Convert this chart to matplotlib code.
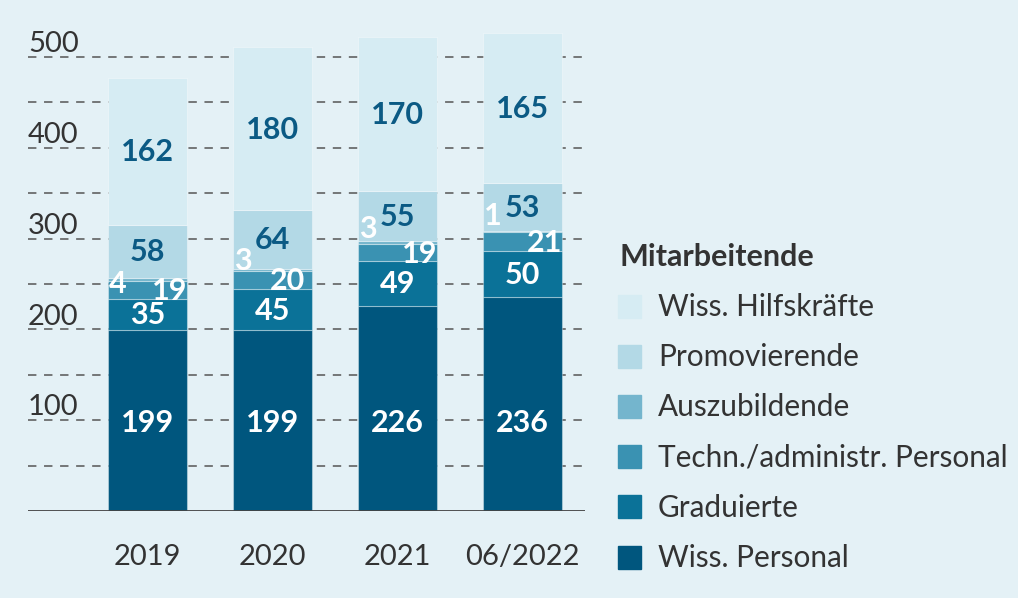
import matplotlib.pyplot as plt
from matplotlib.patches import Rectangle
import numpy as np

plt.rcParams['font.family'] = ['Lato', 'DejaVu Sans']

years = ["2019", "2020", "2021", "06/2022"]
wiss_personal = [199, 199, 226, 236]
graduierte = [35, 45, 49, 50]
techn_admin = [19, 20, 19, 21]
auszubildende = [4, 3, 3, 1]
promovierende = [58, 64, 55, 53]
hilfskraefte = [162, 180, 170, 165]

series = [
    ("Wiss. Personal", wiss_personal, "#00567e"),
    ("Graduierte", graduierte, "#0b7298"),
    ("Techn./administr. Personal", techn_admin, "#3a92b2"),
    ("Auszubildende", auszubildende, "#74b5cd"),
    ("Promovierende", promovierende, "#b3d9e6"),
    ("Wiss. Hilfskräfte", hilfskraefte, "#d6ecf3"),
]

bg = "#e4f1f6"
dark_label = "#0b5a84"
text_col = "#333333"

W, H = 1018, 598
fig = plt.figure(figsize=(W / 100, H / 100), dpi=100, facecolor=bg)
ax = fig.add_axes([28 / W, 87 / H, 557 / W, (511 - 11.6) / H])
ax.set_facecolor(bg)
ax.set_xlim(-0.956, 3.5)
ax.set_ylim(0, 550)
for s in ax.spines.values():
    s.set_visible(False)
ax.set_xticks([])
ax.set_yticks([])

# dashed grid
for v in range(50, 501, 50):
    ax.axhline(v, color="#555555", lw=1.1, ls=(0, (5.5, 5)), zorder=0)
ax.axhline(0, color="#444444", lw=1.3, zorder=3)

for v in range(100, 501, 100):
    ax.text(-0.956, v + 14, str(v), ha="left", va="center", fontsize=21,
            color=text_col)

x = np.arange(len(years))
bottom = np.zeros(len(years))
for name, vals, col in series:
    ax.bar(x, vals, 0.632, bottom=bottom, color=col, edgecolor=(1, 1, 1, 0.35),
           linewidth=0.8, zorder=2)
    bottom += np.array(vals)

# segment labels
lab = dict(fontsize=22, fontweight="bold", ha="center", va="center", zorder=4)
b0 = np.array(wiss_personal)
b1 = b0 + graduierte
b2 = b1 + techn_admin
b3 = b2 + auszubildende
b4 = b3 + promovierende
b5 = b4 + hilfskraefte
techn_dx = [0.18, 0.12, 0.18, 0.18]
aus_dy = [-7, 8, 14, 17]
for i in range(len(years)):
    ax.text(x[i], 97, wiss_personal[i], color="white", **lab)
    ax.text(x[i], (b0[i] + b1[i]) / 2 - 1, graduierte[i], color="white", **lab)
    ax.text(x[i] + techn_dx[i], (b1[i] + b2[i]) / 2 - 1, techn_admin[i], color="white", **lab)
    ax.text(x[i] - 0.24, b3[i] + aus_dy[i], auszubildende[i], color="white", **lab)
    ax.text(x[i], (b3[i] + b4[i]) / 2 - 1, promovierende[i], color=dark_label, **lab)
    ax.text(x[i], (b4[i] + b5[i]) / 2 - 1, hilfskraefte[i], color=dark_label, **lab)
    ax.text(x[i], -51, years[i], ha="center", va="center", fontsize=21,
            color=text_col, clip_on=False)

# legend
fig.text(620 / W, 1 - 257 / H, "Mitarbeitende", fontsize=22, fontweight="bold",
         color=text_col, ha="left", va="center")
for k, (name, vals, col) in enumerate(reversed(series)):
    yc = 306 + 50.2 * k
    fig.patches.append(Rectangle((618 / W, 1 - (yc + 11.5) / H), 23 / W, 23 / H,
                                 transform=fig.transFigure, color=col))
    fig.text(658 / W, 1 - (yc + 1) / H, name, fontsize=21.4, color=text_col,
             ha="left", va="center")

fig.savefig("out.png", dpi=100, facecolor=bg)
